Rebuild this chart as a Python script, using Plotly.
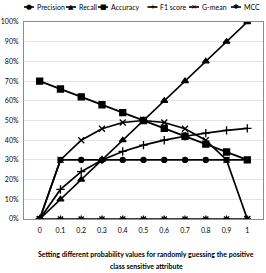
import plotly.graph_objects as go

x_labels = ["0", "0.1", "0.2", "0.3", "0.4", "0.5", "0.6", "0.7", "0.8", "0.9", "1"]
precision = [0.0, 0.30, 0.30, 0.30, 0.30, 0.30, 0.30, 0.30, 0.30, 0.30, 0.30]
recall = [0.0, 0.10, 0.20, 0.30, 0.40, 0.50, 0.60, 0.70, 0.80, 0.90, 1.00]
accuracy = [0.70, 0.66, 0.62, 0.58, 0.54, 0.50, 0.46, 0.42, 0.38, 0.34, 0.30]
f1_score = [0.0, 0.15, 0.24, 0.30, 0.343, 0.375, 0.40, 0.42, 0.436, 0.45, 0.46]
g_mean = [0.0, 0.30, 0.40, 0.458, 0.49, 0.50, 0.49, 0.458, 0.40, 0.30, 0.0]
mcc = [0.0, 0.0, 0.0, 0.0, 0.0, 0.0, 0.0, 0.0, 0.0, 0.0, 0.0]
y_ticks = [0, 0.1, 0.2, 0.3, 0.4, 0.5, 0.6, 0.7, 0.8, 0.9, 1.0]
y_tick_labels = ["0%", "10%", "20%", "30%", "40%", "50%", "60%", "70%", "80%", "90%", "100%"]
title_lines = ["Setting different probability values for randomly guessing the positive",
               "class sensitive attribute"]

series = [
    ("Precision", precision, "circle", 5, "●"),
    ("Recall", recall, "triangle-up", 6, "▲"),
    ("Accuracy", accuracy, "square", 6, "■"),
    ("F1 score", f1_score, "cross-thin-open", 6, "+"),
    ("G-mean", g_mean, "x-thin-open", 6, "×"),
    ("MCC", mcc, "asterisk-open", 6, "✱"),
]

FONT = "Lato, Roboto, Liberation Sans, sans-serif"

fig = go.Figure()
for name, vals, sym, size, _ in series:
    fig.add_trace(go.Scatter(
        x=x_labels, y=vals, name=name, mode="lines+markers",
        line=dict(color="black", width=1.7),
        marker=dict(symbol=sym, size=size, color="black",
                    line=dict(color="black", width=1.3)),
        showlegend=False,
    ))

W, H = 266, 273
ml, mr, mt, mb = 24, 3, 22, 54
pw = W - ml - mr
ph = H - mt - mb

def px_to_paper_x(px):
    return (px - ml) / pw

def py_to_paper_y(py):
    return (H - mb - py) / ph

legend_centers = [29, 71, 103, 152.5, 194, 236]
legend_y = 7
for (name, _, _, _, glyph), cx in zip(series, legend_centers):
    fig.add_shape(type="line", xref="paper", yref="paper",
                  x0=px_to_paper_x(cx - 5), x1=px_to_paper_x(cx + 5),
                  y0=py_to_paper_y(legend_y), y1=py_to_paper_y(legend_y),
                  line=dict(color="black", width=1.6))
    fig.add_annotation(xref="paper", yref="paper", x=px_to_paper_x(cx),
                       y=py_to_paper_y(legend_y), text=glyph, showarrow=False,
                       xanchor="center", yanchor="middle",
                       font=dict(family="DejaVu Sans", size=7, color="black"))
    fig.add_annotation(xref="paper", yref="paper", x=px_to_paper_x(cx + 5.5),
                       y=py_to_paper_y(legend_y), text=name, showarrow=False,
                       xanchor="left", yanchor="middle",
                       font=dict(family=FONT, size=7, color="black"))

for line_text, ly in zip(title_lines, [254, 266]):
    fig.add_annotation(xref="paper", yref="paper", x=px_to_paper_x(146),
                       y=py_to_paper_y(ly), xanchor="center", yanchor="middle",
                       showarrow=False, text="<b>" + line_text + "</b>",
                       font=dict(family=FONT, size=7, color="black"))

fig.update_layout(
    width=W, height=H,
    margin=dict(l=ml, r=mr, t=mt, b=mb),
    paper_bgcolor="white", plot_bgcolor="white",
    font=dict(family=FONT, size=7, color="black"),
    showlegend=False,
    xaxis=dict(
        type="category", showgrid=False, zeroline=False, automargin=False,
        showline=True, linecolor="#8c8c8c", linewidth=1, mirror=True,
        ticks="", tickfont=dict(size=7), ticklabelstandoff=5,
    ),
    yaxis=dict(
        range=[0, 1], tickvals=y_ticks, ticktext=y_tick_labels, automargin=False,
        showgrid=True, gridcolor="#e3e3e3", gridwidth=1, zeroline=False,
        showline=True, linecolor="#8c8c8c", linewidth=1, mirror=True,
        ticks="", tickfont=dict(size=7), ticklabelstandoff=3,
    ),
)

fig.write_html("out.html", config={"displayModeBar": False},
               post_script="document.body.style.margin='0';document.body.style.padding='0';")
